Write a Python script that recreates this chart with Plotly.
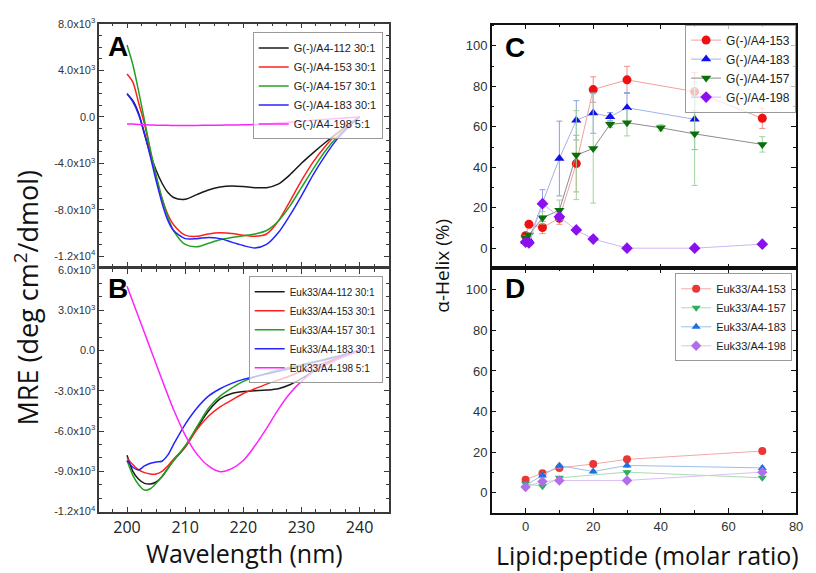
import plotly.graph_objects as go

W, H = 816, 573

# ---------------- data ----------------
wl = [200, 201, 202, 203, 204, 205, 206, 207, 208, 210, 212, 214, 216, 218,
      220, 222, 224, 226, 228, 230, 232, 234, 236, 238, 240]

A_names = ["G(-)/A4-112 30:1", "G(-)/A4-153 30:1", "G(-)/A4-157 30:1",
           "G(-)/A4-183 30:1", "G(-)/A4-198 5:1"]
A_112 = [2000, 1400, 300, -1500, -3200, -4600, -5700, -6500, -6950, -7100, -6700, -6300, -6050, -5950,
         -6000, -6100, -6100, -5800, -5000, -4000, -3100, -2250, -1450, -700, 0]
A_153 = [3700, 3000, 1200, -600, -3000, -5200, -7000, -8400, -9300, -10200, -10300, -10100, -10000, -10050,
         -10200, -10300, -10100, -9000, -7300, -5500, -3900, -2600, -1500, -700, 0]
A_157 = [6200, 4500, 2200, -300, -2800, -5000, -7000, -8600, -9800, -11000, -11200, -10900, -10600, -10400,
         -10250, -10100, -9800, -9000, -7700, -6100, -4500, -3000, -1800, -800, 0]
A_183 = [2000, 1300, 200, -1400, -3400, -5500, -7400, -8900, -9800, -10500, -10500, -10400, -10500, -10800,
         -11100, -11300, -11000, -10000, -8500, -6800, -5000, -3400, -2000, -900, 0]
A_198 = [-600, -620, -650, -680, -700, -710, -720, -725, -730, -730, -730, -720, -710, -700,
         -680, -650, -600, -530, -450, -370, -290, -210, -140, -70, 0]

B_names = ["Euk33/A4-112 30:1", "Euk33/A4-153 30:1", "Euk33/A4-157 30:1",
           "Euk33/A4-183 30:1", "Euk33/A4-198 5:1"]
B_112 = [-7800, -9000, -9600, -9900, -9950, -9800, -9400, -8800, -8200, -7200, -5800, -4500, -3600, -3200,
         -3050, -3000, -2950, -2850, -2550, -2100, -1550, -1050, -650, -300, 0]
B_153 = [-8000, -8500, -8900, -9100, -9200, -9200, -9000, -8600, -8100, -7200, -5900, -4900, -4200, -3700,
         -3200, -2850, -2500, -2200, -1900, -1550, -1200, -900, -600, -300, 0]
B_157 = [-8200, -9300, -10000, -10400, -10300, -9900, -9400, -8800, -8200, -7100, -5700, -4300, -3400, -2800,
         -2300, -1950, -1700, -1450, -1250, -1050, -850, -650, -450, -220, 0]
B_183 = [-8200, -8700, -8900, -8600, -8400, -8300, -8250, -7800, -7000, -5500, -4300, -3400, -2850, -2450,
         -2150, -1950, -1750, -1550, -1350, -1150, -900, -700, -480, -240, 0]
B_198 = [4800, 3640, 2480, 1320, 160, -1000, -2160, -3300, -4400, -6300, -7700, -8600, -9030, -8800,
         -8200, -7100, -5800, -4400, -3200, -2300, -1600, -1100, -700, -330, 0]

A_yticks = [8000, 4000, 0, -4000, -8000, -12000]
A_ytext = ["8.0x10<sup>3</sup>", "4.0x10<sup>3</sup>", "0.0", "-4.0x10<sup>3</sup>",
           "-8.0x10<sup>3</sup>", "-1.2x10<sup>4</sup>"]
B_yticks = [6000, 3000, 0, -3000, -6000, -9000, -12000]
B_ytext = ["6.0x10<sup>3</sup>", "3.0x10<sup>3</sup>", "0.0", "-3.0x10<sup>3</sup>",
           "-6.0x10<sup>3</sup>", "-9.0x10<sup>3</sup>", "-1.2x10<sup>4</sup>"]
wl_ticks = [200, 210, 220, 230, 240]

# Panel C
C_x_153 = [0, 1, 5, 10, 15, 20, 30, 50, 70]
C_y_153 = [6.2, 11.8, 10.2, 14.8, 41.8, 78.4, 83.2, 77.4, 64.2]
C_e_153 = [1, 1, 3, 3, 14, 6.3, 6.7, 9.5, 5]
C_x_183 = [0, 1, 5, 10, 15, 20, 25, 30, 50]
C_y_183 = [3.2, 4.2, 22.4, 44.3, 63.2, 66.8, 65.0, 69.4, 63.7]
C_e_183 = [1, 1, 6.5, 18.5, 9.7, 10, 2, 7.5, 15]
C_x_157 = [0, 1, 5, 10, 15, 20, 25, 30, 40, 50, 70]
C_y_157 = [5.0, 6.5, 15.0, 18.8, 46.0, 49.3, 61.2, 62.0, 59.5, 56.5, 51.3]
C_e_157 = [1, 1, 3, 5, 22, 27, 1.5, 6.5, 1.5, 25.5, 3.8]
C_x_198 = [0, 1, 5, 10, 15, 20, 30, 50, 70]
C_y_198 = [3.0, 2.6, 22.0, 15.5, 9.0, 4.5, 0.0, 0.0, 2.0]
C_e_198 = [0.8, 0.8, 1.5, 1.5, 1, 1, 0.5, 0.5, 0.5]

# Panel D
D_x_153 = [0, 5, 10, 20, 30, 70]
D_y_153 = [6.5, 9.7, 12.3, 14.2, 16.5, 20.6]
D_e_153 = [0.6, 0.6, 0.8, 0.6, 0.8, 1.2]
D_x_157 = [0, 5, 10, 30, 70]
D_y_157 = [4.5, 3.2, 7.4, 10.2, 7.4]
D_e_157 = [0.6, 0.6, 0.6, 0.8, 0.8]
D_x_183 = [0, 5, 10, 20, 30, 70]
D_y_183 = [3.7, 8.5, 13.4, 10.5, 13.5, 12.3]
D_e_183 = [0.6, 0.8, 1.2, 0.8, 1.0, 1.0]
D_x_198 = [0, 5, 10, 30, 70]
D_y_198 = [2.9, 5.6, 6.1, 6.1, 10.2]
D_e_198 = [0.5, 0.5, 0.5, 0.5, 0.8]

ratio_ticks = [0, 20, 40, 60, 80]
helix_ticks = [0, 20, 40, 60, 80, 100]

# ---------------- helpers ----------------
def px(x):
    return x / W

def py(y):
    return 1 - y / H

fig = go.Figure()

cd_colors = ["#1a1a1a", "#ff2020", "#22a022", "#2424ff", "#ff22ff"]

for name, ys, c in zip(A_names, [A_112, A_153, A_157, A_183, A_198], cd_colors):
    fig.add_trace(go.Scatter(x=wl, y=ys, mode="lines", name=name,
                             line=dict(color=c, width=1.5, shape="spline", smoothing=0.8),
                             xaxis="x", yaxis="y", legend="legend"))
for name, ys, c in zip(B_names, [B_112, B_153, B_157, B_183, B_198], cd_colors):
    fig.add_trace(go.Scatter(x=wl, y=ys, mode="lines", name=name,
                             line=dict(color=c, width=1.5, shape="spline", smoothing=0.8),
                             xaxis="x2", yaxis="y2", legend="legend2"))

C_series = [
    ("G(-)/A4-153", C_x_153, C_y_153, C_e_153, "#ee1111", "#f3a0a0", "circle", "#f08c8c"),
    ("G(-)/A4-183", C_x_183, C_y_183, C_e_183, "#1111ee", "#9fb4e6", "triangle-up", "#8c9fe0"),
    ("G(-)/A4-157", C_x_157, C_y_157, C_e_157, "#0a700a", "#8c8c8c", "triangle-down", "#9fd49f"),
    ("G(-)/A4-198", C_x_198, C_y_198, C_e_198, "#8a10f0", "#cdb6f5", "diamond", "#c8b0f5"),
]
for name, xs, ys, es, mc, lc, sym, ec in C_series:
    fig.add_trace(go.Scatter(x=xs, y=ys, mode="lines+markers", name=name,
                             line=dict(color=lc, width=1),
                             marker=dict(color=mc, size=9, symbol=sym),
                             error_y=dict(type="data", array=es, color=ec, thickness=1, width=3),
                             xaxis="x3", yaxis="y3", legend="legend3"))

D_series = [
    ("Euk33/A4-153", D_x_153, D_y_153, D_e_153, "#ec3535", "#f2a8a8", "circle"),
    ("Euk33/A4-157", D_x_157, D_y_157, D_e_157, "#2eaf5e", "#a8dcb8", "triangle-down"),
    ("Euk33/A4-183", D_x_183, D_y_183, D_e_183, "#1f6fe0", "#9cc0ec", "triangle-up"),
    ("Euk33/A4-198", D_x_198, D_y_198, D_e_198, "#b06ee8", "#dcc0f4", "diamond"),
]
for name, xs, ys, es, mc, lc, sym in D_series:
    fig.add_trace(go.Scatter(x=xs, y=ys, mode="lines+markers", name=name,
                             line=dict(color=lc, width=1),
                             marker=dict(color=mc, size=8, symbol=sym),
                             error_y=dict(type="data", array=es, color=lc, thickness=1, width=2),
                             xaxis="x4", yaxis="y4", legend="legend4"))

# ---------------- axes ----------------
ab_line = "#3a3a3a"
cd_line = "#111111"
tick_font_ab = dict(family="Liberation Sans, Arial", size=11, color="#333")
tick_font_cd = dict(family="Liberation Sans, Arial", size=13, color="#333")

def ax_common(color):
    return dict(showline=True, linecolor=color, linewidth=1.5, mirror="ticks",
                ticks="inside", ticklen=5, tickwidth=1.2, tickcolor=color,
                showgrid=False, zeroline=False)

xA = [px(100), px(392)]
yA = [py(265), py(17)]
yB = [py(516), py(268)]
xC = [px(496), px(803)]
yC = [py(267), py(18)]
yD = [py(517), py(267)]

fig.update_layout(
    width=W, height=H, margin=dict(l=0, r=0, t=0, b=0),
    paper_bgcolor="white", plot_bgcolor="white",
    xaxis=dict(domain=xA, range=[195.2, 245], anchor="y", tickvals=wl_ticks, showticklabels=False,
               minor=dict(dtick=2.5, tick0=200, ticks="inside", ticklen=3, tickcolor=ab_line),
               **ax_common(ab_line)),
    yaxis=dict(domain=yA, range=[-12900, 8050], anchor="x", tickvals=A_yticks, ticktext=A_ytext,
               tickfont=tick_font_ab,
               minor=dict(dtick=1000, tick0=0, ticks="inside", ticklen=3, tickcolor=ab_line),
               **ax_common(ab_line)),
    xaxis2=dict(domain=xA, range=[195.2, 245], anchor="y2", tickvals=wl_ticks,
                tickfont=dict(family="Open Sans", size=16, color="#222"),
                minor=dict(dtick=2.5, tick0=200, ticks="inside", ticklen=3, tickcolor=ab_line),
                **ax_common(ab_line)),
    yaxis2=dict(domain=yB, range=[-12050, 6050], anchor="x2", tickvals=B_yticks, ticktext=B_ytext,
                tickfont=tick_font_ab,
                minor=dict(dtick=1000, tick0=0, ticks="inside", ticklen=3, tickcolor=ab_line),
                **ax_common(ab_line)),
    xaxis3=dict(domain=xC, range=[-10, 80], anchor="y3", tickvals=ratio_ticks, showticklabels=False,
                minor=dict(dtick=10, tick0=0, ticks="inside", ticklen=3, tickcolor=cd_line),
                **ax_common(cd_line)),
    yaxis3=dict(domain=yC, range=[-10, 110.5], anchor="x3", tickvals=helix_ticks, tickfont=tick_font_cd,
                minor=dict(dtick=10, tick0=0, ticks="inside", ticklen=3, tickcolor=cd_line),
                **ax_common(cd_line)),
    xaxis4=dict(domain=xC, range=[-10, 80], anchor="y4", tickvals=ratio_ticks, tickfont=tick_font_cd,
                minor=dict(dtick=10, tick0=0, ticks="inside", ticklen=3, tickcolor=cd_line),
                **ax_common(cd_line)),
    yaxis4=dict(domain=yD, range=[-10, 110.5], anchor="x4", tickvals=helix_ticks, tickfont=tick_font_cd,
                minor=dict(dtick=10, tick0=0, ticks="inside", ticklen=3, tickcolor=cd_line),
                **ax_common(cd_line)),
    showlegend=True,
)

leg_common = dict(bordercolor="#9a9a9a", borderwidth=1, bgcolor="rgba(255,255,255,0.72)",
                  xanchor="right", yanchor="top", itemwidth=30, tracegroupgap=0)
fig.update_layout(
    legend=dict(x=px(386), y=py(26),
                font=dict(family="Liberation Sans, Arial", size=11, color="#222"), **leg_common),
    legend2=dict(x=px(386), y=py(275),
                 font=dict(family="Liberation Sans, Arial", size=10, color="#222"), **leg_common),
    legend3=dict(x=px(803), y=py(18),
                 font=dict(family="Liberation Sans, Arial", size=12, color="#222"), **leg_common),
    legend4=dict(x=px(799), y=py(272),
                 font=dict(family="Liberation Sans, Arial", size=11, color="#222"), **leg_common),
)

ann = []
for letter, x, y in [("A", 107, 40), ("B", 107, 288), ("C", 507, 41), ("D", 507, 288)]:
    ann.append(dict(text="<b>%s</b>" % letter, x=px(x), y=py(y), xref="paper", yref="paper",
                    xanchor="left", yanchor="middle", showarrow=False,
                    font=dict(family="Liberation Sans, Arial", size=28, color="black")))
title_font = dict(family="Open Sans", color="#111")
ann.append(dict(text="MRE (deg cm<sup>2</sup>/dmol)", x=px(27), y=py(297), xref="paper", yref="paper",
                textangle=-90, showarrow=False, xanchor="center", yanchor="middle",
                font=dict(size=27, **title_font)))
ann.append(dict(text="α-Helix (%)", x=px(446), y=py(264), xref="paper", yref="paper",
                textangle=-90, showarrow=False, xanchor="center", yanchor="middle",
                font=dict(size=19, **title_font)))
ann.append(dict(text="Wavelength (nm)", x=px(247), y=py(558), xref="paper", yref="paper",
                showarrow=False, xanchor="center", yanchor="middle",
                font=dict(size=25, **title_font)))
ann.append(dict(text="Lipid:peptide (molar ratio)", x=px(653), y=py(560), xref="paper", yref="paper",
                showarrow=False, xanchor="center", yanchor="middle",
                font=dict(size=25, **title_font)))
fig.update_layout(annotations=ann)

fig.write_html("out.html")
